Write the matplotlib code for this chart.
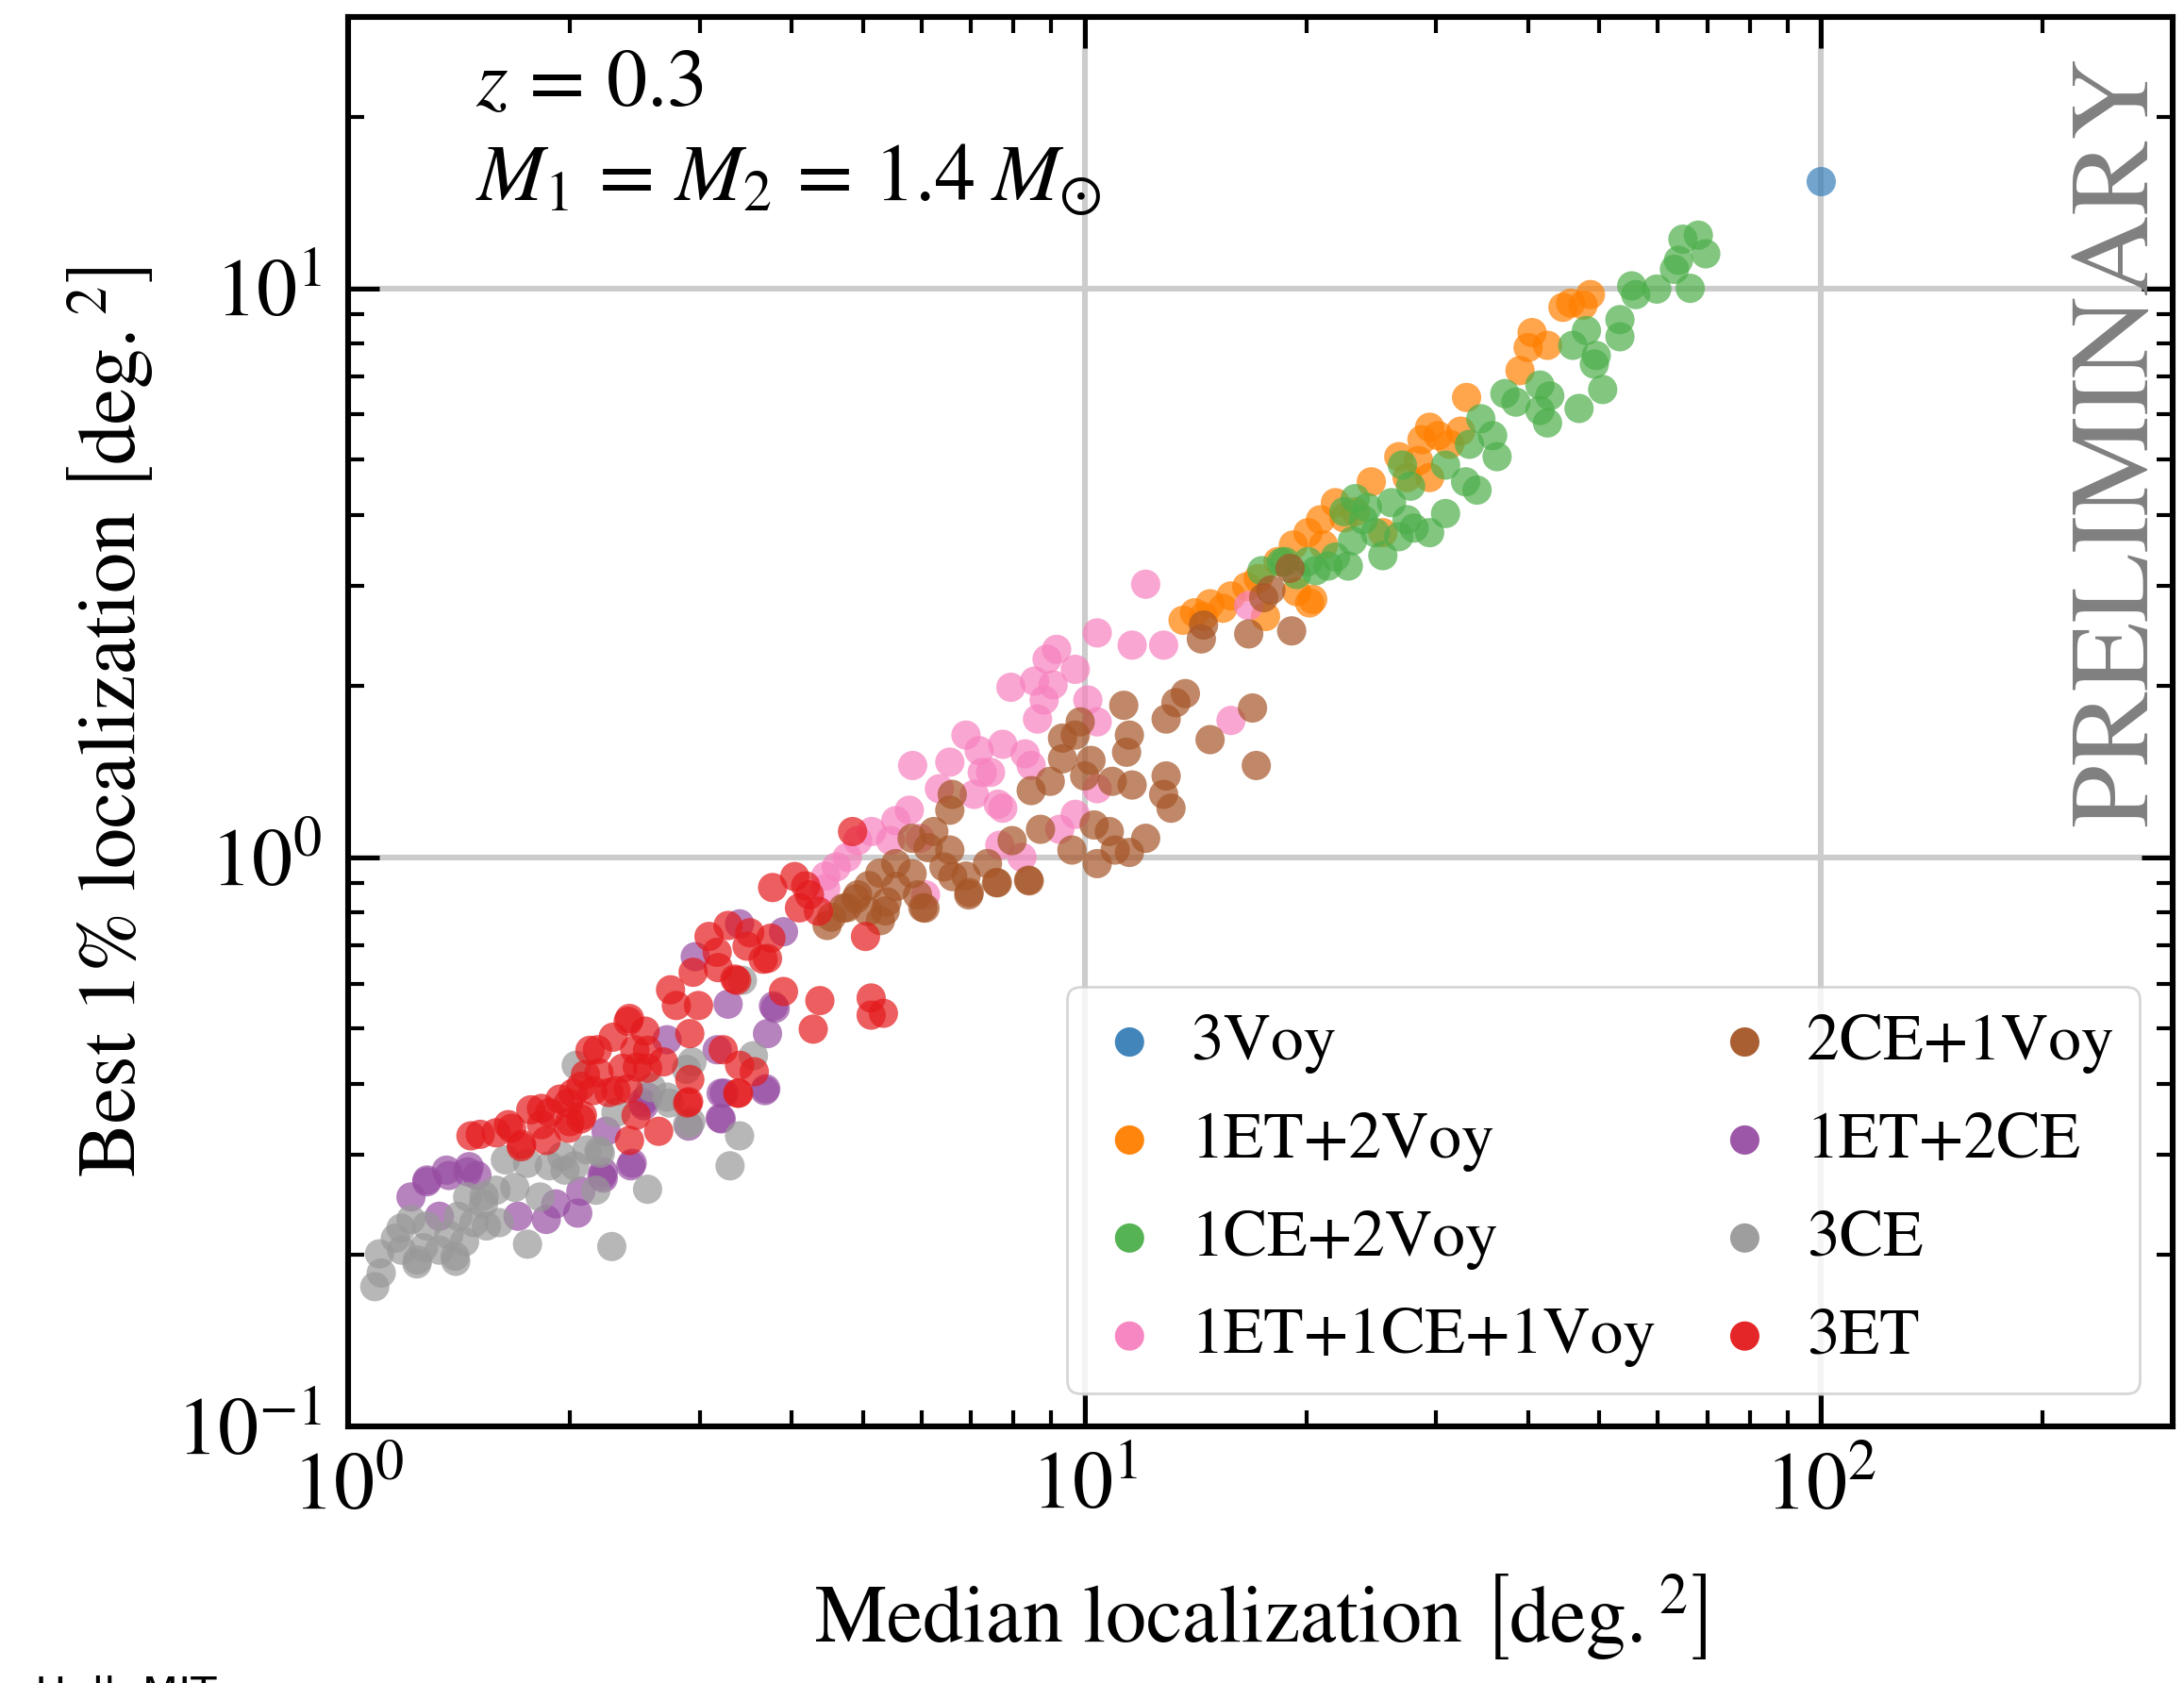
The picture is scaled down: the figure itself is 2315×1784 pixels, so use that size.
import matplotlib
matplotlib.use("Agg")
import matplotlib.pyplot as plt

plt.rcParams["font.family"] = "serif"
plt.rcParams["font.serif"] = ["STIXGeneral", "Liberation Serif", "DejaVu Serif"]
plt.rcParams["mathtext.fontset"] = "stix"

# --- data ---
voy3_x = [100.0]
voy3_y = [15.4]

et1voy2_x = [45.7, 48.6, 47.5, 44.6, 40.5, 42.5, 40.0, 39.0, 33.0, 29.4, 28.7, 26.7, 28.4, 30.2,
             32.4, 24.5, 27.4, 21.9, 20.9, 20.1, 21.1, 19.2, 18.3, 17.2, 16.6, 15.8, 14.8, 14.1,
             13.6, 20.4, 19.4, 17.6, 15.4, 14.5, 25.4, 23.3, 29.4, 31.3, 20.2, 22.5]
et1voy2_y = [9.42, 9.75, 9.34, 9.26, 8.36, 7.94, 7.87, 7.17, 6.43, 5.70, 5.42, 5.06, 4.98, 5.51,
             5.61, 4.57, 4.65, 4.20, 3.92, 3.72, 3.54, 3.54, 3.31, 3.09, 2.99, 2.88, 2.79, 2.69,
             2.61, 2.84, 2.93, 2.65, 2.74, 2.65, 3.72, 4.05, 4.65, 5.32, 2.80, 3.95]

ce1voy2_x = [64.9, 68.1, 69.7, 64.0, 63.2, 66.4, 59.8, 55.3, 56.0, 53.3, 53.3, 48.0, 46.0, 49.5,
             49.2, 50.5, 46.9, 42.5, 41.5, 42.8, 41.5, 38.5, 37.2, 34.5, 35.8, 36.3, 34.1, 32.9,
             30.9, 33.3, 30.9, 29.4, 27.7, 27.4, 27.0, 26.1, 25.4, 23.9, 23.1, 22.8, 21.9, 21.4,
             20.6, 19.4, 18.7, 24.2, 28.0, 26.7, 22.5, 23.3, 24.8, 20.1, 17.4, 18.5]
ce1voy2_y = [12.2, 12.4, 11.5, 11.2, 10.8, 10.0, 9.97, 10.1, 9.75, 8.81, 8.22, 8.43, 7.94, 7.62,
             7.36, 6.64, 6.15, 5.80, 6.10, 6.47, 6.76, 6.31, 6.53, 5.90, 5.51, 5.06, 4.42, 4.57,
             4.89, 5.32, 4.02, 3.72, 4.49, 3.92, 4.89, 4.20, 3.39, 3.92, 3.60, 3.25, 3.37, 3.25,
             3.19, 3.14, 3.31, 4.12, 3.79, 3.66, 4.05, 4.27, 3.72, 3.31, 3.19, 3.30]

et1ce1voy1_x = [12.1, 10.4, 11.6, 12.8, 16.7, 15.8, 9.16, 9.71, 8.89, 7.94, 8.55, 9.06, 10.1, 8.81,
                8.63, 10.4, 7.74, 8.30, 8.46, 7.45, 7.74, 9.71, 9.25, 10.4, 8.22, 7.67, 6.90, 7.19,
                6.56, 7.26, 6.35, 7.08, 7.63, 5.78, 5.54, 5.14, 4.92, 5.45, 5.98, 4.76, 4.60, 4.45,
                4.45, 6.08, 5.84]
et1ce1voy1_y = [3.02, 2.48, 2.36, 2.36, 2.77, 1.74, 2.32, 2.14, 2.23, 1.99, 2.04, 2.01, 1.89, 1.89,
                1.75, 1.73, 1.58, 1.52, 1.45, 1.41, 1.22, 1.19, 1.12, 1.32, 1.00, 1.05, 1.64, 1.54,
                1.47, 1.41, 1.32, 1.29, 1.24, 1.21, 1.16, 1.11, 1.07, 1.07, 1.08, 1.00, 0.962, 0.927,
                0.881, 0.859, 1.45]

ce2voy1_x = [19.0, 17.9, 17.5, 14.5, 14.4, 16.7, 19.1, 13.7, 13.3, 12.9, 11.3, 16.9, 14.8, 17.1,
             11.5, 11.4, 12.9, 12.8, 13.1, 11.6, 10.9, 9.86, 9.71, 9.33, 10.2, 10.0, 9.33, 8.98,
             8.46, 8.71, 7.97, 9.61, 10.4, 10.3, 10.8, 11.5, 12.1, 11.0, 8.41, 7.59,
             6.61, 6.56, 6.24, 6.13, 5.83, 5.54, 5.27, 5.09, 4.92, 4.76, 4.53, 5.36, 5.93, 6.03,
             6.90, 6.56, 7.38, 6.96,
             4.47, 4.70, 4.89, 5.08, 5.28, 5.39, 5.55, 5.83, 6.07, 6.44, 6.97, 7.61, 8.39, 6.62]
ce2voy1_y = [3.22, 2.95, 2.86, 2.56, 2.42, 2.47, 2.50, 1.94, 1.87, 1.75, 1.85, 1.83, 1.61, 1.45,
             1.64, 1.53, 1.39, 1.29, 1.22, 1.34, 1.36, 1.73, 1.64, 1.49, 1.48, 1.39, 1.62, 1.36,
             1.31, 1.12, 1.07, 1.03, 0.975, 1.14, 1.11, 1.02, 1.08, 1.03, 0.909, 0.903,
             1.29, 1.21, 1.11, 1.04, 1.08, 0.975, 0.938, 0.892, 0.859, 0.816, 0.785, 0.805, 0.859,
             0.816, 0.927, 1.03, 0.975, 0.859,
             0.759, 0.814, 0.845, 0.803, 0.774, 0.835, 0.889, 0.936, 0.814, 0.962, 0.867, 0.902,
             0.912, 0.925]

et1ce2_x = [1.217, 1.279, 1.370, 1.453, 1.496, 1.330, 1.701, 1.858, 1.914, 2.05, 2.07, 2.22, 2.42,
            2.24, 3.21, 3.24, 3.68, 2.52,
            3.40, 3.90, 2.96, 3.28, 3.78, 3.71, 3.17, 2.71, 3.69, 3.21, 3.20, 2.43, 2.22, 2.55,
            1.28, 2.21, 2.90, 3.80, 2.51, 1.46, 1.36]
et1ce2_y = [0.253, 0.269, 0.276, 0.280, 0.276, 0.234, 0.234, 0.231, 0.246, 0.237, 0.259, 0.273,
            0.287, 0.330, 0.347, 0.385, 0.389, 0.366,
            0.764, 0.740, 0.669, 0.552, 0.548, 0.490, 0.459, 0.478, 0.392, 0.385, 0.348, 0.290,
            0.280, 0.379,
            0.271, 0.275, 0.337, 0.543, 0.371, 0.286, 0.282]

ce3_x = [1.087, 1.109, 1.103, 1.159, 1.182, 1.242, 1.217, 1.279, 1.266, 1.330, 1.397, 1.370, 1.439,
         1.411, 1.482, 1.527, 1.453, 1.588, 1.603, 1.541, 1.684, 1.635, 1.752, 1.822, 1.876, 1.951,
         2.03, 2.11, 2.20, 2.17, 1.752, 2.28, 2.55, 3.40, 3.30, 2.73, 2.89, 2.31,
         3.55, 3.43, 2.92, 2.71, 2.58, 2.93, 2.04,
         2.88, 2.19, 1.97, 1.53, 1.18, 1.24, 1.40]
ce3_y = [0.176, 0.186, 0.201, 0.214, 0.204, 0.196, 0.231, 0.225, 0.206, 0.204, 0.199, 0.217, 0.211,
         0.234, 0.228, 0.246, 0.253, 0.260, 0.228, 0.225, 0.263, 0.294, 0.290, 0.253, 0.287, 0.298,
         0.287, 0.306, 0.302, 0.260, 0.209, 0.207, 0.261, 0.324, 0.287, 0.370, 0.339, 0.356,
         0.448, 0.608, 0.343, 0.379, 0.394, 0.437, 0.431,
         0.424, 0.305, 0.282, 0.254, 0.223, 0.193, 0.195]

et3_x = [1.511, 1.468, 1.588, 1.667, 1.718, 1.770, 1.858, 1.876, 1.991, 2.07, 1.991, 2.15, 2.31,
         2.46, 2.41, 2.64, 2.89, 3.39,
         3.77, 4.04, 4.18, 4.10, 4.35, 5.04, 3.09, 3.28, 3.17, 2.94, 3.37, 3.48, 3.71, 3.75, 2.74,
         2.79, 2.99, 2.91, 3.90, 4.37, 4.28, 5.13, 5.13, 5.33, 2.41, 2.29, 2.18, 2.53, 2.45, 2.68,
         2.55, 2.36, 2.10, 2.02, 2.08, 3.23, 3.40, 3.56, 3.38, 2.91, 2.90,
         1.72, 1.83, 1.94, 2.07, 2.19, 2.13, 2.40, 2.47, 1.83, 2.00, 1.65, 2.40, 2.26, 3.35, 3.66,
         2.55,
         4.84, 4.23, 3.51, 3.18]
et3_y = [0.326, 0.324, 0.328, 0.334, 0.310, 0.360, 0.318, 0.356, 0.370, 0.347, 0.334, 0.389, 0.389,
         0.352, 0.318, 0.330, 0.370, 0.385,
         0.885, 0.925, 0.891, 0.815, 0.804, 0.726, 0.726, 0.759, 0.681, 0.628, 0.608, 0.698, 0.664,
         0.721, 0.585, 0.549, 0.549, 0.490, 0.581, 0.560, 0.499, 0.566, 0.528, 0.532, 0.521, 0.483,
         0.459, 0.495, 0.459, 0.437, 0.426, 0.426, 0.415, 0.385, 0.352, 0.459, 0.431, 0.420, 0.385,
         0.407, 0.372,
         0.313, 0.339, 0.376, 0.396, 0.418, 0.458, 0.515, 0.428, 0.362, 0.343, 0.339, 0.392, 0.386,
         0.611, 0.662, 0.458,
         1.11, 0.859, 0.737, 0.64]

groups = [
    ("3Voy", voy3_x, voy3_y, "#377eb8"),
    ("1ET+2Voy", et1voy2_x, et1voy2_y, "#ff7f00"),
    ("1CE+2Voy", ce1voy2_x, ce1voy2_y, "#4daf4a"),
    ("1ET+1CE+1Voy", et1ce1voy1_x, et1ce1voy1_y, "#f781bf"),
    ("2CE+1Voy", ce2voy1_x, ce2voy1_y, "#a65628"),
    ("1ET+2CE", et1ce2_x, et1ce2_y, "#984ea3"),
    ("3CE", ce3_x, ce3_y, "#999999"),
    ("3ET", et3_x, et3_y, "#e41a1c"),
]

fig = plt.figure(figsize=(11.575, 8.92), dpi=200)
ax = fig.add_axes([0.1594, 0.1525, 0.8354, 0.8375])

for name, xs, ys, c in groups:
    ax.scatter(xs, ys, s=125, color=c, alpha=0.7, edgecolors="none", label=name, zorder=3)

ax.set_xscale("log")
ax.set_yscale("log")
ax.set_xlim(1, 300)
ax.set_ylim(0.1, 30)

ax.grid(True, which="major", color="#cccccc", linewidth=2.2, zorder=0)
ax.set_axisbelow(True)
for sp in ax.spines.values():
    sp.set_linewidth(2.2)
ax.tick_params(which="both", direction="in", top=True, right=True, labelsize=31)
ax.tick_params(which="major", length=12, width=1.8, pad=10)
ax.tick_params(which="minor", length=6, width=1.5)

ax.set_xlabel(r"Median localization $\left[\mathrm{deg.}^{2}\right]$", fontsize=31, labelpad=17)
ax.set_ylabel(r"Best $1\%$ localization $\left[\mathrm{deg.}^{2}\right]$", fontsize=31, labelpad=8)

ax.text(0.07, 0.977, r"$z\,=\,0.3$", transform=ax.transAxes, fontsize=31, va="top")
ax.text(0.07, 0.911, r"$M_1\,=\,M_2\,=\,1.4\;M_{\odot}$", transform=ax.transAxes, fontsize=31, va="top")
ax.text(0.999, 0.699, "PRELIMINARY", transform=ax.transAxes, rotation=90, fontsize=43,
        color="#808080", ha="right", va="center")

leg = ax.legend(loc="lower right", ncol=2, fontsize=25, scatterpoints=1, markerscale=1.0,
                frameon=True, fancybox=True, edgecolor="#cccccc", framealpha=0.8,
                handlelength=1.1, handletextpad=0.39, columnspacing=0.8, labelspacing=0.58,
                borderpad=0.4)
for h in leg.legend_handles:
    h.set_alpha(0.95)

fig.text(0.016, 0.0045, "Hall, MIT", fontsize=16, family="DejaVu Sans", va="top")

fig.savefig("out.png", dpi=200)
